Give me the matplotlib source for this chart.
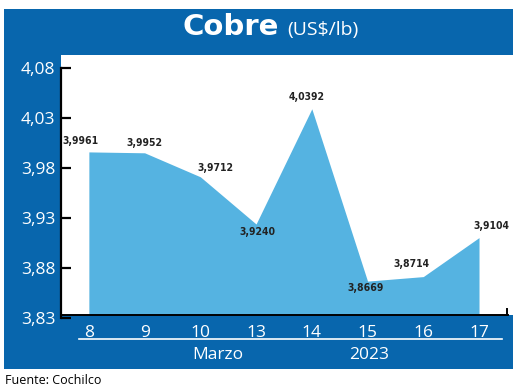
import matplotlib.pyplot as plt
from matplotlib.patches import Rectangle
from matplotlib.lines import Line2D

# datos: precio del cobre, marzo 2023
dias = ['8', '9', '10', '13', '14', '15', '16', '17']
precios = [3.9961, 3.9952, 3.9712, 3.9240, 4.0392, 3.8669, 3.8714, 3.9104]
etiquetas = ['3,9961', '3,9952', '3,9712', '3,9240', '4,0392', '3,8669', '3,8714', '3,9104']
yticks = [3.83, 3.88, 3.93, 3.98, 4.03, 4.08]
ytick_labels = ['3,83', '3,88', '3,93', '3,98', '4,03', '4,08']

# desplazamientos de las etiquetas (puntos)
offsets = [(-5.8, 7.9), (0, 7.2), (10.8, 6.5), (0.7, -5.8),
           (-3.6, 8.6), (-1.4, -5), (-8.6, 9.4), (8.6, 8.6)]

azul = '#0866ad'
celeste = '#55b3e1'

W, H = 520, 390
fig = plt.figure(figsize=(W / 100, H / 100), dpi=100)
fig.patch.set_facecolor('white')

def px(x, y):
    return x / W, 1 - y / H

# fondo azul y zona blanca
fig.patches.append(Rectangle(px(4, 369), 509 / W, 360 / H, transform=fig.transFigure,
                             facecolor=azul, edgecolor='none', zorder=-10))
fig.patches.append(Rectangle(px(61, 315), 452 / W, 260 / H, transform=fig.transFigure,
                             facecolor='white', edgecolor='none', zorder=-9))

ax = fig.add_axes([61 / W, 1 - 318 / H, (508 - 61) / W, 250 / H])
ax.set_facecolor('none')
x = list(range(len(dias)))
ax.fill_between(x, precios, 3.83, color=celeste, linewidth=0, zorder=1)

# banda azul inferior (tapa la base del area)
ax.add_patch(Rectangle(px(61, 369), 452 / W, 54 / H, transform=fig.transFigure,
                       facecolor=azul, edgecolor='none', zorder=1.2, clip_on=False))

ax.set_xlim(-0.5, 7.52)
ax.set_ylim(3.83, 4.08)
ax.set_yticks(yticks)
ax.set_yticklabels(ytick_labels)
ax.set_xticks(x)
ax.set_xticklabels(dias)

for s in ['top', 'right', 'bottom']:
    ax.spines[s].set_visible(False)
ax.spines['left'].set_linewidth(1.6)
ax.spines['left'].set_zorder(3)

ax.tick_params(axis='y', direction='in', length=7.5, width=1.6, color='black',
               labelcolor='white', labelsize=12.5, pad=4)
ax.tick_params(axis='x', length=0, labelcolor='white', labelsize=12.5, pad=5)
for lab in ax.get_xticklabels() + ax.get_yticklabels():
    lab.set_family('Open Sans')

for xi, yi, txt, off in zip(x, precios, etiquetas, offsets):
    ax.annotate(txt, (xi, yi), xytext=off, textcoords='offset points',
                ha='center', va='center', fontsize=7.5, fontweight='bold',
                family='DejaVu Sans', fontstretch='condensed',
                color='#222222', zorder=4)

# linea del eje x y linea blanca
fig.lines.append(Line2D([61 / W, 508 / W], [1 - 314.5 / H] * 2,
                        transform=fig.transFigure, color='black', lw=1.4, zorder=5))
fig.lines.append(Line2D([507 / W, 507 / W], [1 - 314.5 / H, 1 - 309 / H],
                        transform=fig.transFigure, color='black', lw=1.4, zorder=5))
fig.lines.append(Line2D([79 / W, 502 / W], [1 - 339 / H] * 2,
                        transform=fig.transFigure, color='white', lw=1.2, zorder=5))

fig.text(218 / W, 1 - 355 / H, 'Marzo', color='white', fontsize=12.5,
         family='Open Sans', ha='center', va='center')
fig.text(369 / W, 1 - 355 / H, '2023', color='white', fontsize=12.5,
         family='Open Sans', ha='center', va='center')

# titulo
fig.text(279 / W, 1 - 35 / H, 'Cobre', color='white', fontsize=21, fontweight='bold',
         family='DejaVu Sans', ha='right', va='baseline')
fig.text(287 / W, 1 - 35 / H, '(US$/lb)', color='white', fontsize=14,
         family='Open Sans', ha='left', va='baseline')

fig.text(5 / W, 1 - 380 / H, 'Fuente: Cochilco', color='black', fontsize=9,
         family='Open Sans', ha='left', va='center')

plt.savefig('out.png', dpi=100)
